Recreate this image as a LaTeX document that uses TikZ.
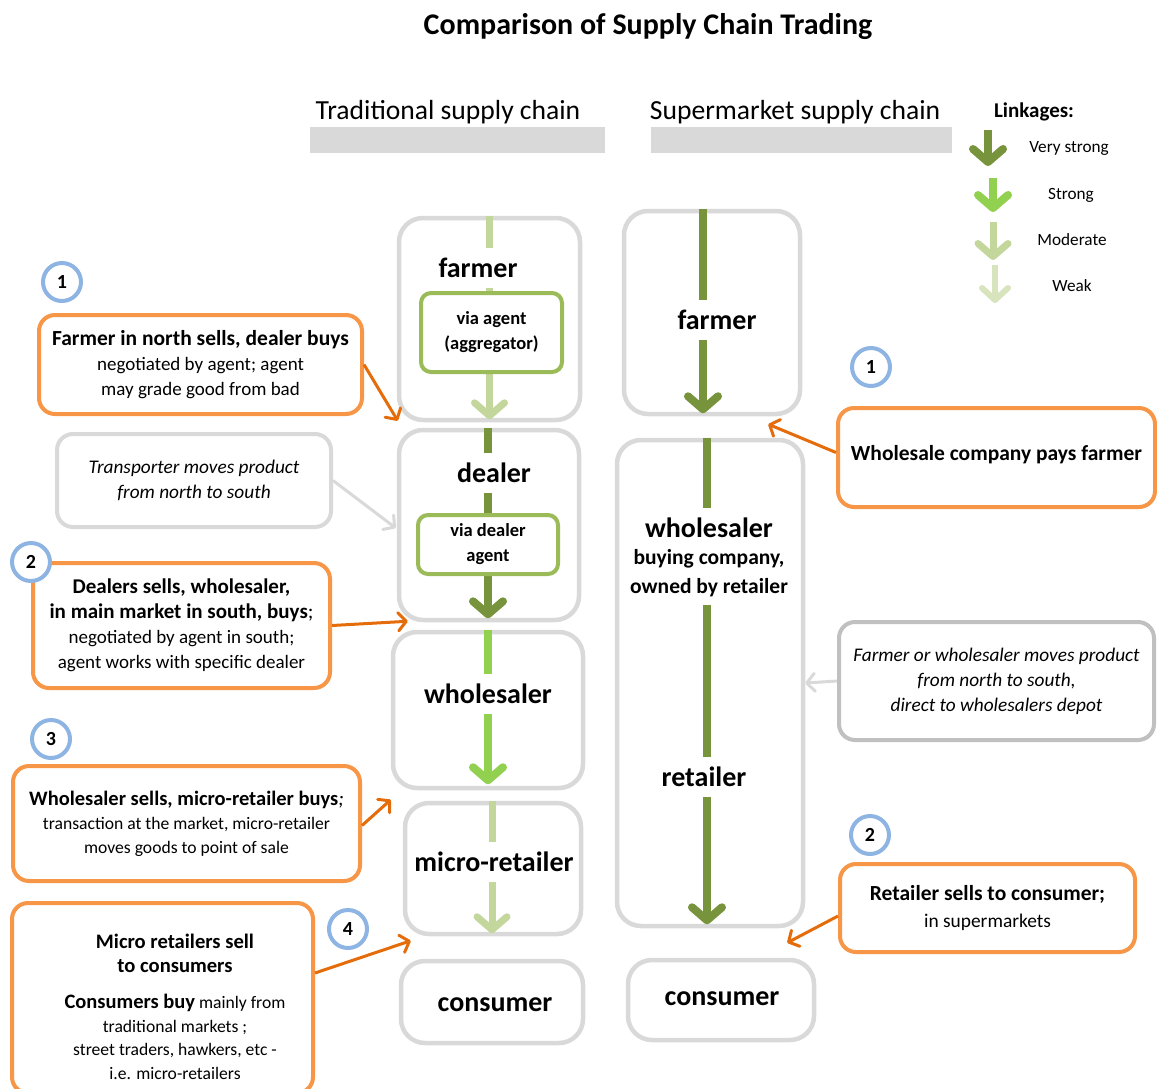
\documentclass[tikz,border=0pt]{standalone}
\usepackage{fontspec}
\setmainfont{Carlito}
\usepackage{xcolor}
\usepackage{tikz}
\usetikzlibrary{arrows.meta}

\definecolor{boxgray}{HTML}{D9D9D9}
\definecolor{notegray}{HTML}{C0C0C0}
\definecolor{calloutorange}{HTML}{F79646}
\definecolor{pointerorange}{HTML}{E46C0A}
\definecolor{numblue}{HTML}{8DB4E2}
\definecolor{agentgreen}{HTML}{9BBB59}
\definecolor{vstronggreen}{HTML}{77933C}
\definecolor{stronggreen}{HTML}{92D050}
\definecolor{modgreen}{HTML}{C3D69B}
\definecolor{weakgreen}{HTML}{D7E4BD}

\newcommand{\setfs}[2]{\fontsize{#1}{#2}\selectfont}

\tikzset{
	chainbox/.style={draw=boxgray,line width=4.5pt,rounded corners=24pt,fill=white,inner sep=0pt},
	agentbox/.style={draw=agentgreen,line width=4pt,rounded corners=10pt,fill=white,inner sep=0pt,align=center,font=\bfseries\setfs{18.5}{25}},
	stagelbl/.style={fill=white,inner xsep=1pt,inner ysep=10pt,font=\bfseries\setfs{28}{30}},
	sublbl/.style={fill=white,inner xsep=1pt,inner ysep=8pt,align=center,font=\bfseries\setfs{21.5}{29}},
	callout/.style={draw=calloutorange,line width=4pt,rounded corners=16pt,fill=white,inner sep=0pt,align=center,font=\setfs{19}{25}},
	note/.style={draw=boxgray,line width=4pt,rounded corners=16pt,fill=white,inner sep=0pt,align=center,font=\itshape\setfs{19.3}{25}},
	numcirc/.style={circle,draw=numblue,line width=4pt,minimum size=38pt,inner sep=0pt,fill=white,font=\bfseries\setfs{20}{22}},
	pointer/.style={draw=pointerorange,line width=3pt,-{Straight Barb[length=8pt,width=18pt,round]}},
	grayptr/.style={draw=boxgray,line width=3pt,-{Straight Barb[length=8pt,width=18pt,round]}},
	vstrong/.style={draw=vstronggreen,line width=8pt,-{Straight Barb[length=13pt,width=30pt,round]}},
	strong/.style={draw=stronggreen,line width=8pt,-{Straight Barb[length=13pt,width=30pt,round]}},
	moderate/.style={draw=modgreen,line width=7pt,-{Straight Barb[length=13pt,width=30pt,round]}},
	weak/.style={draw=weakgreen,line width=6pt,-{Straight Barb[length=12pt,width=26pt,round]}},
	legendtxt/.style={font=\setfs{17.2}{20}}
}

\begin{document}
\begin{tikzpicture}[x=1pt,y=-1pt]
	%	\draw[help lines,step=50] (0,0) grid (1157,1088);
	\useasboundingbox (0,0) rectangle (1157,1088);
	% title and column heads
	\node (title) at(648,27)[font=\bfseries\setfs{30}{34}]{Comparison of Supply Chain Trading};
	\node (tHead) at(448,112)[font=\setfs{27.6}{30}]{Traditional supply chain};
	\node (sHead) at(795,112)[font=\setfs{27.6}{30}]{Supermarket supply chain};
	\node (tBar) at(457.5,140)[fill=boxgray,minimum width=295,minimum height=26,inner sep=0pt]{};
	\node (sBar) at(801.5,140)[fill=boxgray,minimum width=301,minimum height=26,inner sep=0pt]{};
	% legend
	\node (lgTitle) at(1034,112)[font=\bfseries\setfs{21}{24}]{Linkages:};
	\coordinate (lgVsA) at(988,130); \coordinate (lgVsB) at(988,166);
	\coordinate (lgStA) at(993,178); \coordinate (lgStB) at(993,212);
	\coordinate (lgMoA) at(993,222); \coordinate (lgMoB) at(993,260);
	\coordinate (lgWkA) at(995,265); \coordinate (lgWkB) at(995,303);
	\draw[vstrong] (lgVsA) -- (lgVsB);
	\draw[strong] (lgStA) -- (lgStB);
	\draw[moderate] (lgMoA) -- (lgMoB);
	\draw[weak] (lgWkA) -- (lgWkB);
	\node (lgVs) at(1069,148)[legendtxt]{Very strong};
	\node (lgSt) at(1071,195)[legendtxt]{Strong};
	\node (lgMo) at(1072,240)[legendtxt]{Moderate};
	\node (lgWk) at(1072,286)[legendtxt]{Weak};

	% traditional chain
	\node (tFarm) at(489.5,319)[chainbox,minimum width=181,minimum height=202]{};
	\node (tDeal) at(489,525)[chainbox,minimum width=180,minimum height=190]{};
	\node (tWhole) at(488,710)[chainbox,minimum width=190,minimum height=156]{};
	\node (tMicro) at(493,868.5)[chainbox,minimum width=176,minimum height=131]{};
	\node (tCons) at(492,1002)[chainbox,minimum width=182,minimum height=82]{};
	\draw[moderate] (tFarm.north) -- ([yshift=3pt]tFarm.south);
	\draw[vstrong] ([xshift=-1pt]tDeal.north) -- ([xshift=-1pt,yshift=4pt]tDeal.south);
	\draw[strong] (tWhole.north) -- ([yshift=6pt]tWhole.south);
	\draw[moderate] ([xshift=-1pt]tMicro.north) -- ([xshift=-1pt,yshift=3pt]tMicro.south);
	\node (tFarmL) at(478,268)[stagelbl]{farmer};
	\node (tFarmAg) at(491.5,332.5)[agentbox,minimum width=141,minimum height=79]{via agent\\(aggregator)};
	\node (tDealL) at(494,473)[stagelbl]{dealer};
	\node (tDealAg) at(488,544.5)[agentbox,minimum width=140,minimum height=59]{via dealer\\agent};
	\node (tWholeL) at(488,694)[stagelbl]{wholesaler};
	\node (tMicroL) at(494,862)[stagelbl]{micro-retailer};
	\node (tConsL) at(495,1005)[stagelbl]{consumer};

	% supermarket chain
	\node (sFarm) at(712,312.5)[chainbox,minimum width=176,minimum height=203]{};
	\node (sWhole) at(710,683)[chainbox,minimum width=186,minimum height=486]{};
	\node (sCons) at(721,1000)[chainbox,minimum width=186,minimum height=80]{};
	\draw[vstrong] ([xshift=-9pt]sFarm.north) -- ([xshift=-9pt,yshift=3pt]sFarm.south);
	\draw[vstrong] ([xshift=-3pt]sWhole.north) -- ([xshift=-3pt,yshift=4pt]sWhole.south);
	\node (sFarmL) at(717,320)[stagelbl]{farmer};
	\node (sWholeL) at(709,528)[stagelbl]{wholesaler};
	\node (sWholeSub) at(709,573)[sublbl]{buying company,\\owned by retailer};
	\node (sRetL) at(704,777)[stagelbl]{retailer};
	\node (sConsL) at(722,999)[stagelbl]{consumer};

	% traditional callouts
	\node (tNum1) at(62,282)[numcirc]{1};
	\node (tCall1) at(200.5,364.5)[callout,minimum width=323,minimum height=99]{{\bfseries\setfs{21.5}{25}Farmer in north sells, dealer buys}\\negotiated by agent; agent\\may grade good from bad};
	\node (tNote) at(194,480.5)[note,minimum width=274,minimum height=93]{Transporter moves product\\from north to south};
	\node (tCall2) at(181.5,625.5)[callout,minimum width=297,minimum height=125]{{\bfseries\setfs{21}{25}Dealers sells, wholesaler,}\\{\setfs{21}{25}\textbf{in main market in south, buys};}\\negotiated by agent in south;\\agent works with specific dealer};
	\node (tNum2) at(31,562)[numcirc]{2};
	\node (tNum3) at(51,739)[numcirc]{3};
	\node (tCall3) at(186.5,823.5)[callout,minimum width=347,minimum height=115,font=\setfs{17.6}{24}]{{\setfs{20.5}{25}\textbf{Wholesaler sells, micro-retailer buys}\textit{;}}\\transaction at the market, micro-retailer\\moves goods to point of sale};
	\node (tCall4) at(162.5,998)[callout,minimum width=301,minimum height=190]{};
	\node (tCall4T) at(175,1007)[align=center,font=\setfs{17.6}{23.5}]{{\bfseries\setfs{20.6}{27}Micro retailers sell}\\{\bfseries\setfs{20.6}{27}to consumers}\\[13pt]{\setfs{20.5}{25}\textbf{Consumers buy}} mainly from\\traditional markets ;\\street traders, hawkers, etc -\\i.e. micro-retailers};
	\node (tNum4) at(348,929)[numcirc]{4};
	\draw[pointer] (tCall1.east) -- ([xshift=1pt,yshift=7pt]tDeal.north west);
	\draw[grayptr] (tNote.east) -- ([xshift=-1pt,yshift=-3pt]tDeal.west);
	\draw[pointer] (tCall2.east) -- ([xshift=11pt,yshift=1pt]tDeal.south west);
	\draw[pointer] ([yshift=-2pt]tCall3.east) -- ([xshift=-12pt,yshift=1pt]tMicro.north west);
	\draw[pointer] ([yshift=25pt]tCall4.east) -- ([xshift=12pt,yshift=18pt]tCons.north west);

	% supermarket callouts
	\node (sNum1) at(871,367)[numcirc]{1};
	\node (sCall1) at(996.5,457.5)[callout,minimum width=317,minimum height=99]{{\bfseries\setfs{21.5}{25}Wholesale company pays farmer}\\[-15pt]};
	\node (sNote) at(996.5,681)[note,draw=notegray,minimum width=315,minimum height=118]{Farmer or wholesaler moves product\\from north to south,\\direct to wholesalers depot};
	\node (sNum2) at(870,835)[numcirc]{2};
	\node (sCall2) at(987.5,908)[callout,minimum width=295,minimum height=88,font=\setfs{19.4}{27}]{{\bfseries\setfs{21.5}{25}Retailer sells to consumer;}\\in supermarkets};
	\draw[pointer] ([yshift=5pt]sCall1.west) -- ([xshift=-34pt,yshift=-8pt]sFarm.south east);
	\draw[grayptr] (sNote.west) -- (sWhole.east);
	\draw[pointer] ([yshift=-8pt]sCall2.west) -- ([xshift=-29pt,yshift=15pt]sCons.north east);
\end{tikzpicture}
\end{document}
